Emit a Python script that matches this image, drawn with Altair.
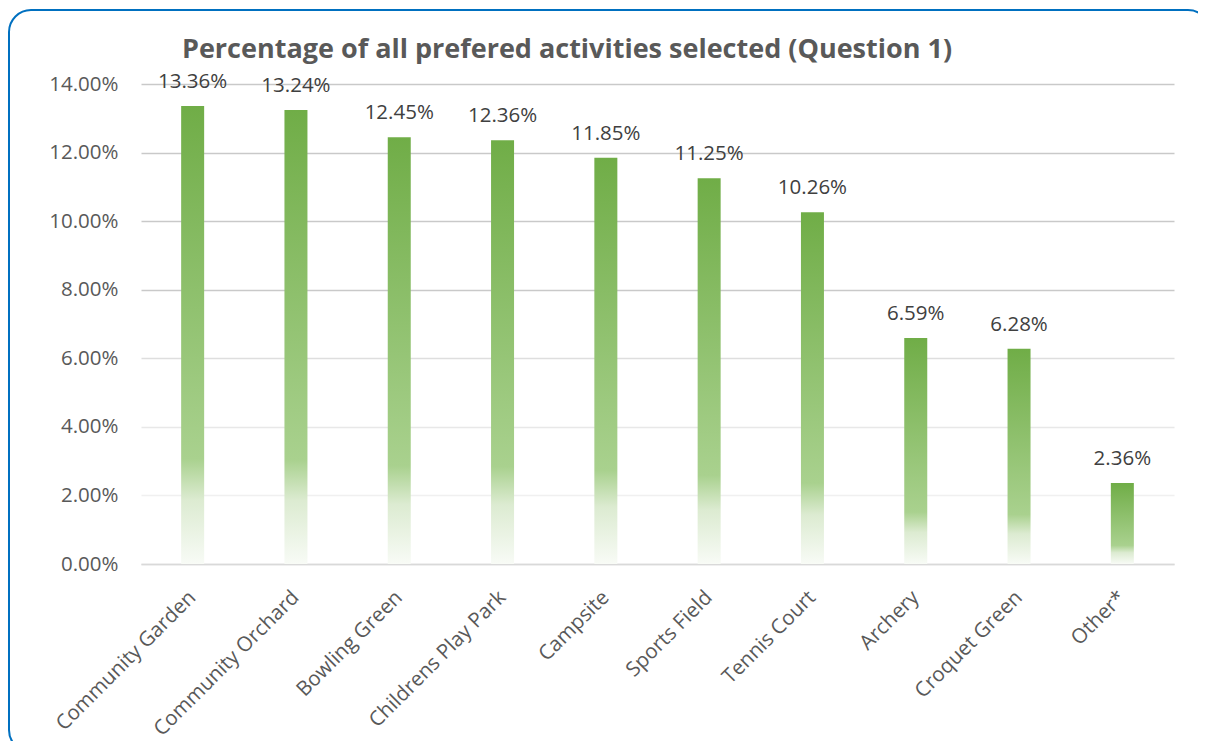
import altair as alt
import pandas as pd

categories = ["Community Garden", "Community Orchard", "Bowling Green", "Childrens Play Park",
              "Campsite", "Sports Field", "Tennis Court", "Archery", "Croquet Green", "Other*"]
values = [13.36, 13.24, 12.45, 12.36, 11.85, 11.25, 10.26, 6.59, 6.28, 2.36]
y_ticks = [0, 2, 4, 6, 8, 10, 12, 14]
title_text = "Percentage of all prefered activities selected (Question 1)"

df = pd.DataFrame({"activity": categories, "share": [v / 100 for v in values]})

FONT = "Open Sans"
W, H = 1033, 480
PAD_L, PAD_T = 133, 76
PAD_R = 1190 - PAD_L - W
PAD_B = 733 - PAD_T - H

grid_color = {
    "condition": [
        {"test": "datum.value < 0.001", "value": "#d9d9d9"},
        {"test": "datum.value >= 0.075", "value": "#c9c9c9"},
        {"test": "datum.value >= 0.055", "value": "#dedede"},
        {"test": "datum.value >= 0.035", "value": "#e8e8e8"},
    ],
    "value": "#f0f0f0",
}

x_enc = alt.X(
    "activity:N", sort=categories, title=None,
    scale=alt.Scale(paddingInner=0, paddingOuter=0),
    axis=alt.Axis(labelAngle=-45, labelAlign="right", labelBaseline="middle",
                  labelFontSize=20.5, labelColor="#595959", labelFont=FONT,
                  labelPadding=30, labelLimit=0, ticks=False, tickSize=0,
                  domainColor="#d9d9d9", domainWidth=1.5),
)
y_enc = alt.Y(
    "share:Q", title=None,
    scale=alt.Scale(domain=[0, 0.14], nice=False),
    axis=alt.Axis(format=".2%", values=[t / 100 for t in y_ticks],
                  labelFontSize=20.5, labelColor="#595959", labelFont=FONT,
                  labelPadding=23, ticks=False, tickSize=0, domain=False,
                  gridColor=grid_color, gridWidth=1.5),
)

gradient = alt.LinearGradient(
    gradient="linear", x1=0, y1=0, x2=0, y2=1,
    stops=[
        alt.GradientStop(color="#70AD47", offset=0),
        alt.GradientStop(color="#A9D18E", offset=0.77),
        alt.GradientStop(color="#DCEBD1", offset=0.86),
        alt.GradientStop(color="#F8FBF6", offset=1),
    ],
)

base = alt.Chart(df)
bars = base.mark_bar(size=23, color=gradient).encode(x=x_enc, y=y_enc)
labels = base.mark_text(dy=-18, baseline="alphabetic", fontSize=20.5, color="#404040", font=FONT).encode(
    x=x_enc, y=y_enc, text=alt.Text("share:Q", format=".2%")
)
one_row = alt.Data(values=[{"k": 1}])
border = alt.Chart(one_row).mark_rect(
    fillOpacity=0, fill="white", stroke="#0070C0", strokeWidth=2, cornerRadius=22, clip=False
).encode(
    x=alt.value(-132), x2=alt.value(1069), y=alt.value(-74), y2=alt.value(668)
)
title = alt.Chart(one_row).mark_text(
    align="center", baseline="alphabetic", fontSize=27, font=FONT, fontWeight="bold", color="#595959"
).encode(x=alt.value(426), y=alt.value(-26), text=alt.value(title_text))

chart = alt.layer(border, bars, labels, title).properties(
    width=W, height=H,
    padding={"left": PAD_L, "top": PAD_T, "right": PAD_R, "bottom": PAD_B},
    autosize=alt.AutoSizeParams(type="none"),
).configure(background="white").configure_view(stroke=None)

chart.save("out.html", embed_options={"renderer": "svg", "actions": False})
